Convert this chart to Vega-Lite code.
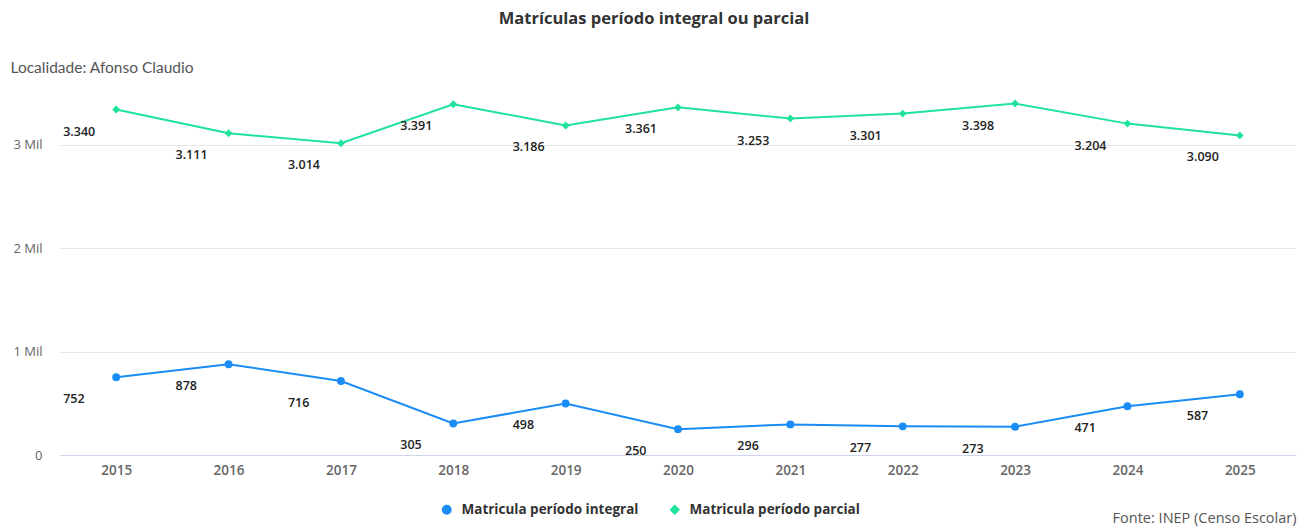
{
  "$schema": "https://vega.github.io/schema/vega-lite/v6.json",
  "width": 1236,
  "height": 362,
  "autosize": {"type": "none"},
  "padding": {"left": 60, "top": 93, "right": 18, "bottom": 75},
  "background": "white",
  "title": {
    "text": "Matrículas período integral ou parcial",
    "anchor": "middle",
    "dx": -24,
    "offset": 33,
    "font": "Open Sans",
    "fontSize": 16.5,
    "fontWeight": "bold",
    "color": "#333333"
  },
  "data": {
    "values": [
      {"ano": "2015", "serie": "Matricula período integral", "valor": 752},
      {"ano": "2016", "serie": "Matricula período integral", "valor": 878},
      {"ano": "2017", "serie": "Matricula período integral", "valor": 716},
      {"ano": "2018", "serie": "Matricula período integral", "valor": 305},
      {"ano": "2019", "serie": "Matricula período integral", "valor": 498},
      {"ano": "2020", "serie": "Matricula período integral", "valor": 250},
      {"ano": "2021", "serie": "Matricula período integral", "valor": 296},
      {"ano": "2022", "serie": "Matricula período integral", "valor": 277},
      {"ano": "2023", "serie": "Matricula período integral", "valor": 273},
      {"ano": "2024", "serie": "Matricula período integral", "valor": 471},
      {"ano": "2025", "serie": "Matricula período integral", "valor": 587},
      {"ano": "2015", "serie": "Matricula período parcial", "valor": 3340},
      {"ano": "2016", "serie": "Matricula período parcial", "valor": 3111},
      {"ano": "2017", "serie": "Matricula período parcial", "valor": 3014},
      {"ano": "2018", "serie": "Matricula período parcial", "valor": 3391},
      {"ano": "2019", "serie": "Matricula período parcial", "valor": 3186},
      {"ano": "2020", "serie": "Matricula período parcial", "valor": 3361},
      {"ano": "2021", "serie": "Matricula período parcial", "valor": 3253},
      {"ano": "2022", "serie": "Matricula período parcial", "valor": 3301},
      {"ano": "2023", "serie": "Matricula período parcial", "valor": 3398},
      {"ano": "2024", "serie": "Matricula período parcial", "valor": 3204},
      {"ano": "2025", "serie": "Matricula período parcial", "valor": 3090}
    ]
  },
  "encoding": {
    "x": {
      "field": "ano",
      "type": "ordinal",
      "scale": {"type": "point", "padding": 0.5},
      "axis": {
        "title": "Fonte: INEP (Censo Escolar)",
        "titleX": 1236,
        "titleY": 63,
        "titleAlign": "right",
        "titleBaseline": "middle",
        "titleFont": "Open Sans",
        "titleFontSize": 14.5,
        "titleFontWeight": "normal",
        "titleColor": "#555555",
        "labelAngle": 0,
        "labelFont": "Open Sans",
        "labelFontSize": 13.5,
        "labelFontWeight": 600,
        "labelColor": "#666666",
        "labelPadding": 8,
        "domainColor": "#ccd6eb",
        "domainWidth": 1,
        "ticks": false,
        "grid": false
      }
    },
    "y": {
      "field": "valor",
      "type": "quantitative",
      "scale": {"domain": [0, 3500], "nice": false},
      "axis": {
        "values": [0, 1000, 2000, 3000],
        "labelExpr": "datum.value == 0 ? '0' : (datum.value / 1000) + ' Mil'",
        "title": "Localidade: Afonso Claudio",
        "titleAngle": 0,
        "titleX": -50,
        "titleY": -26,
        "titleAlign": "left",
        "titleBaseline": "middle",
        "titleFont": "Lato",
        "titleFontSize": 15.5,
        "titleFontWeight": "normal",
        "titleColor": "#555555",
        "labelFont": "Open Sans",
        "labelFontSize": 13,
        "labelColor": "#666666",
        "labelPadding": 18,
        "domain": false,
        "ticks": false,
        "gridColor": "#e6e6e6",
        "gridWidth": 1
      }
    },
    "color": {
      "field": "serie",
      "type": "nominal",
      "scale": {"domain": ["Matricula período integral", "Matricula período parcial"], "range": ["#1a8cf5", "#1fe39a"]},
      "legend": {
        "title": null,
        "orient": "none",
        "direction": "horizontal",
        "legendX": 380,
        "legendY": 410,
        "labelFont": "Open Sans",
        "labelFontSize": 13.5,
        "labelFontWeight": "bold",
        "labelColor": "#333333",
        "labelLimit": 400,
        "labelOffset": 8,
        "columnPadding": 28,
        "symbolSize": 70
      }
    }
  },
  "layer": [
    {"mark": {"type": "line", "strokeWidth": 2}},
    {
      "mark": {"type": "point", "filled": true, "size": 62, "opacity": 1},
      "encoding": {
        "shape": {
          "field": "serie",
          "type": "nominal",
          "scale": {"domain": ["Matricula período integral", "Matricula período parcial"], "range": ["circle", "diamond"]},
          "legend": null
        }
      }
    },
    {
      "mark": {"type": "text", "align": "left", "baseline": "middle", "dx": -53, "dy": 22, "font": "Open Sans", "fontSize": 12.5, "fontWeight": 600, "color": "#222222"},
      "encoding": {
        "text": {"field": "valor", "type": "quantitative", "format": ",d"},
        "color": {"value": "#222222"}
      }
    }
  ],
  "config": {
    "view": {"stroke": null},
    "locale": {
      "number": {"decimal": ",", "thousands": ".", "grouping": [3], "currency": ["R$", ""]}
    }
  }
}
